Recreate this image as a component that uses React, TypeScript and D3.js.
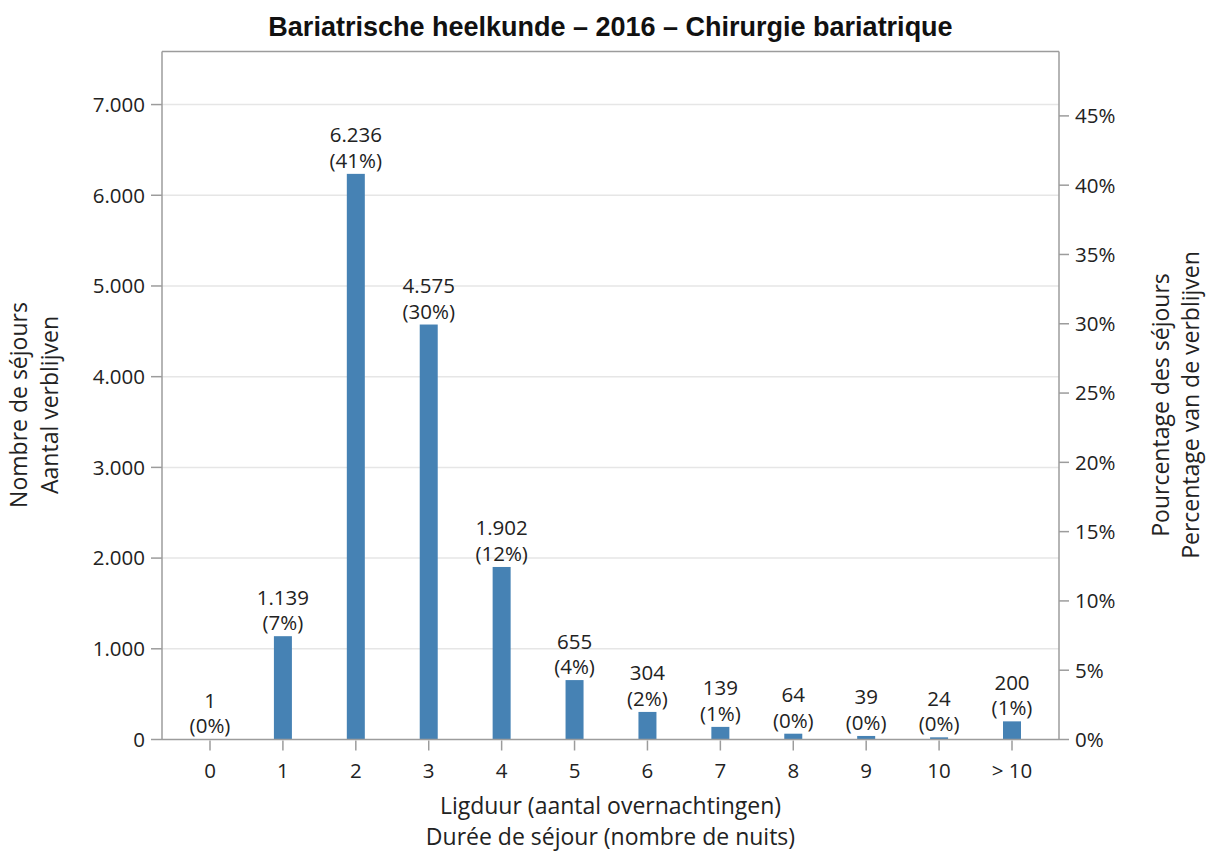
import React from "react";
import * as d3 from "d3";

const categories = ["0", "1", "2", "3", "4", "5", "6", "7", "8", "9", "10", "> 10"];
const stays = [1, 1139, 6236, 4575, 1902, 655, 304, 139, 64, 39, 24, 200];
const countTicks = [0, 1000, 2000, 3000, 4000, 5000, 6000, 7000];
const pctTicks = [0, 0.05, 0.1, 0.15, 0.2, 0.25, 0.3, 0.35, 0.4, 0.45];

const title = "Bariatrische heelkunde – 2016 – Chirurgie bariatrique";
const xTitle = ["Ligduur (aantal overnachtingen)", "Durée de séjour (nombre de nuits)"];
const yTitle = ["Nombre de séjours", "Aantal verblijven"];
const y2Title = ["Pourcentage des séjours", "Percentage van de verblijven"];

const W = 1206;
const H = 852;
const left = 162;
const right = 1059;
const top = 51.5;
const bottom = 739.5;
const yMax = 7585;

const FONT = "'Open Sans', 'Noto Sans', sans-serif";
const TXT = "#222";
const AXIS = "#9c9c9c";
const GRID = "#e6e6e6";
const BAR = "#4682b4";

const locale = d3.formatLocale({ decimal: ",", thousands: ".", grouping: [3], currency: ["€", ""] });
const fmtNum = locale.format(",d");

export default function App() {
  const total = d3.sum(stays);
  const x = d3.scalePoint<string>().domain(categories).range([left + 48, right - 47]);
  const y = d3.scaleLinear().domain([0, yMax]).range([bottom, top]);
  const y2 = d3.scaleLinear().domain([0, yMax / total]).range([bottom, top]);
  const barW = 18;
  const fs = 20.5;
  const fsT = 23;

  return (
    <svg width={W} height={H} style={{ position: "absolute", left: 0, top: 0, background: "#fff" }} fontFamily={FONT}>
      <rect x={0} y={0} width={W} height={H} fill="#fff" />
      {/* title */}
      <text x={(left + right) / 2} y={36} textAnchor="middle" fontSize={27} fontWeight="bold" fill="#111" fontFamily="'Liberation Sans', Arial, sans-serif">
        {title}
      </text>
      {/* gridlines */}
      {countTicks.filter((t) => t > 0).map((t) => (
        <line key={"g" + t} x1={left} x2={right} y1={y(t)} y2={y(t)} stroke={GRID} strokeWidth={1.5} />
      ))}
      {/* frame */}
      <line x1={left} x2={right} y1={top} y2={top} stroke={AXIS} strokeWidth={1.5} />
      <line x1={left} x2={left} y1={top} y2={bottom} stroke={AXIS} strokeWidth={1.5} />
      <line x1={right} x2={right} y1={top} y2={bottom} stroke={AXIS} strokeWidth={1.5} />
      {/* bars */}
      {stays.map((v, i) => (
        <rect key={"b" + i} x={(x(categories[i]) as number) - barW / 2} y={y(v)} width={barW} height={bottom - y(v)} fill={BAR} />
      ))}
      <line x1={left} x2={right} y1={bottom} y2={bottom} stroke={AXIS} strokeWidth={1.5} />
      {/* bar labels */}
      {stays.map((v, i) => {
        const cx = x(categories[i]) as number;
        const ty = y(v);
        return (
          <g key={"l" + i} fontSize={fs} fill={TXT} textAnchor="middle">
            <text x={cx} y={ty - 31.5}>{fmtNum(v)}</text>
            <text x={cx} y={ty - 6}>({Math.round((v / total) * 100)}%)</text>
          </g>
        );
      })}
      {/* left axis */}
      {countTicks.map((t) => (
        <g key={"yl" + t}>
          <line x1={left - 11} x2={left} y1={y(t)} y2={y(t)} stroke={AXIS} strokeWidth={1.5} />
          <text x={left - 17} y={y(t)} dy="0.36em" textAnchor="end" fontSize={fs} fill={TXT}>
            {fmtNum(t)}
          </text>
        </g>
      ))}
      {/* right axis */}
      {pctTicks.map((t) => (
        <g key={"yr" + t}>
          <line x1={right} x2={right + 10} y1={y2(t)} y2={y2(t)} stroke={AXIS} strokeWidth={1.5} />
          <text x={right + 16} y={y2(t)} dy="0.36em" textAnchor="start" fontSize={fs} fill={TXT}>
            {Math.round(t * 100)}%
          </text>
        </g>
      ))}
      {/* bottom axis */}
      {categories.map((c) => (
        <g key={"x" + c}>
          <line x1={x(c) as number} x2={x(c) as number} y1={bottom + 1} y2={bottom + 11} stroke={AXIS} strokeWidth={1.5} />
          <text x={x(c) as number} y={778} textAnchor="middle" fontSize={fs} fill={TXT}>
            {c}
          </text>
        </g>
      ))}
      {/* axis titles */}
      {xTitle.map((t, i) => (
        <text key={"xt" + i} x={(left + right) / 2} y={814 + i * 31} textAnchor="middle" fontSize={fsT} fill={TXT}>
          {t}
        </text>
      ))}
      {yTitle.map((t, i) => (
        <text key={"yt" + i} transform={`translate(${27 + i * 31},${405}) rotate(-90)`} textAnchor="middle" fontSize={fsT} fill={TXT}>
          {t}
        </text>
      ))}
      {y2Title.map((t, i) => (
        <text key={"y2t" + i} transform={`translate(${1169 + i * 30},${405}) rotate(-90)`} textAnchor="middle" fontSize={fsT} fill={TXT}>
          {t}
        </text>
      ))}
    </svg>
  );
}
